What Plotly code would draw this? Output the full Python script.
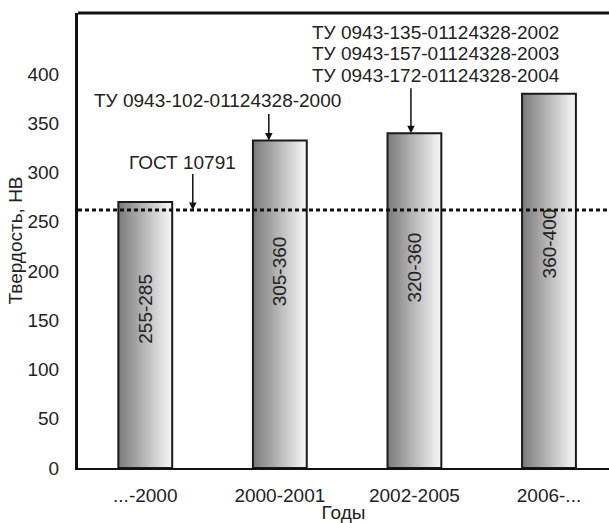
import plotly.graph_objects as go

# Hardness of wheel steel by period
periods = ["...-2000", "2000-2001", "2002-2005", "2006-..."]
hb_low = [255, 305, 320, 360]
hb_high = [285, 360, 360, 400]
gost_level = 262  # ГОСТ 10791 reference level, HB

y_ticks = [0, 50, 100, 150, 200, 250, 300, 350, 400]

tu_2000 = "ТУ 0943-102-01124328-2000"
tu_later = [
    "ТУ 0943-135-01124328-2002",
    "ТУ 0943-157-01124328-2003",
    "ТУ 0943-172-01124328-2004",
]

FONT = "Liberation Sans, Arial, sans-serif"
TEXT = "#222222"
BAR_W = 0.4

fig = go.Figure()

# Each bar is a gradient-filled rectangle from 0 up to the middle of its range
for i, (lo, hi) in enumerate(zip(hb_low, hb_high)):
    mid = (lo + hi) / 2
    x0, x1 = i - BAR_W / 2, i + BAR_W / 2
    fig.add_trace(go.Scatter(
        x=[x0, x0, x1, x1, x0],
        y=[0, mid, mid, 0, 0],
        mode="lines",
        fill="toself",
        fillgradient=dict(
            type="horizontal",
            colorscale=[[0, "#7a7a7a"], [0.85, "#e6e6e6"], [1, "#f7f7f7"]],
        ),
        line=dict(color="#1a1a1a", width=2),
        hoverinfo="skip",
        showlegend=False,
    ))
    fig.add_annotation(
        x=i, y=mid * 0.6, text=f"{lo}-{hi}", textangle=-90,
        showarrow=False, font=dict(family=FONT, size=19, color=TEXT),
    )

# Standard level (dotted) and top border of the frame
fig.add_shape(type="line", xref="paper", x0=0, x1=1, yref="y",
              y0=gost_level, y1=gost_level, layer="above",
              line=dict(color="#111111", width=3, dash="4px,3px"))
fig.add_shape(type="line", xref="paper", x0=0, x1=1, yref="paper",
              y0=1, y1=1, layer="above",
              line=dict(color="#111111", width=3))

arrow = dict(showarrow=True, arrowhead=2, arrowsize=1, arrowwidth=1.5,
             arrowcolor="#111111", axref="x", ayref="y")
txt = dict(family=FONT, size=19, color=TEXT)

fig.add_annotation(x=0.353, y=gost_level, ax=0.353, ay=300, text="", **arrow)
fig.add_annotation(x=0.279, y=310, text="ГОСТ 10791", showarrow=False, font=txt)

top2 = (hb_low[1] + hb_high[1]) / 2
fig.add_annotation(x=0.918, y=top2, ax=0.918, ay=361, text="", **arrow)
fig.add_annotation(x=0.54, y=373.5, text=tu_2000, showarrow=False, font=txt)

top3 = (hb_low[2] + hb_high[2]) / 2
fig.add_annotation(x=1.974, y=top3, ax=1.974, ay=387, text="", **arrow)
for line_text, y_pos in zip(tu_later, [442.5, 421.0, 399.0]):
    fig.add_annotation(x=2.158, y=y_pos, text=line_text,
                       showarrow=False, font=txt)

fig.update_layout(
    width=609, height=523,
    margin=dict(l=78, r=0, t=13, b=55),
    paper_bgcolor="white", plot_bgcolor="white",
    font=dict(family=FONT, size=19, color=TEXT),
    xaxis=dict(
        range=[-0.5, 3.446], tickvals=list(range(len(periods))), ticktext=periods,
        showgrid=False, zeroline=False, showline=True, linecolor="#111111",
        linewidth=2, ticks="", ticklabelstandoff=9,
        title=dict(text="Годы", standoff=4, font=dict(size=19)),
    ),
    yaxis=dict(
        range=[0, 462], tickvals=y_ticks, showgrid=False, zeroline=False,
        showline=True, linecolor="#111111", linewidth=3, ticks="",
        ticklabelstandoff=12,
        title=dict(text="Твердость, НВ", standoff=0, font=dict(size=19)),
    ),
)

fig.write_html("out.html")
